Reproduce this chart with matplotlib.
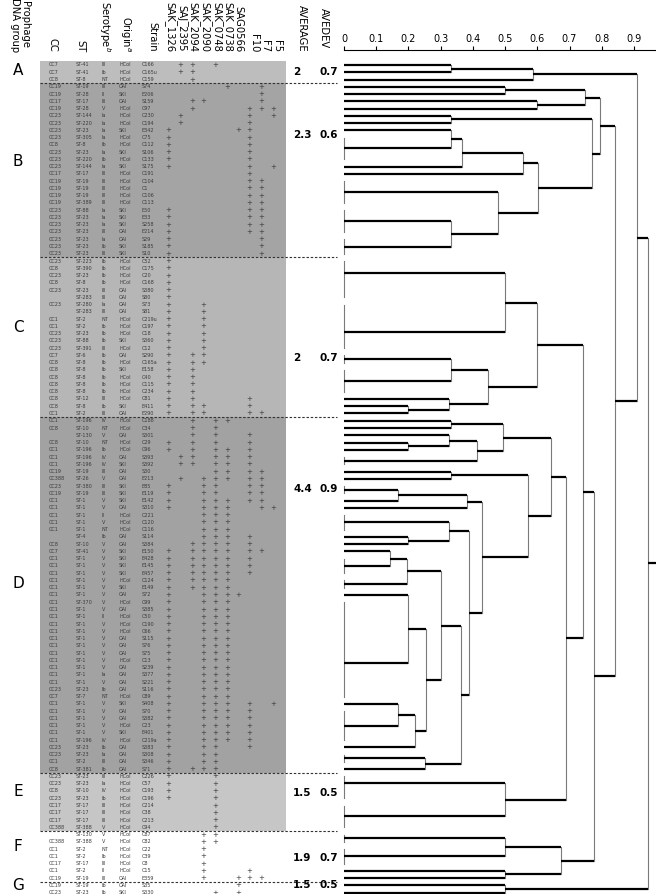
import matplotlib
matplotlib.use('Agg')
import matplotlib.pyplot as plt
import numpy as np
from matplotlib.patches import Rectangle

plt.rcParams['font.family'] = ['DejaVu Sans']

# ---------------- data ----------------
markers = ['SAK_1326', 'SAJ_2395', 'SAK_2094', 'SAK_2090', 'SAK_0748',
           'SAK_0738', 'SAG0566', 'F10', 'F7', 'F5']

cc = ['CC7', 'CC7', 'CC8',
      'CC19', 'CC19', 'CC17', 'CC19', 'CC23', 'CC23', 'CC23', 'CC23', 'CC8', 'CC23', 'CC23', 'CC23',
      'CC17', 'CC19', 'CC19', 'CC19', 'CC19', 'CC23', 'CC23', 'CC23', 'CC23', 'CC23', 'CC23', 'CC23',
      'CC23', 'CC8', 'CC23', 'CC8', 'CC23', '', 'CC23', '', 'CC1', 'CC1', 'CC23', 'CC23', 'CC23',
      'CC7', 'CC8', 'CC8', 'CC8', 'CC8', 'CC8', 'CC8', 'CC8', 'CC1',
      'CC1', 'CC8', '', 'CC8', 'CC1', 'CC1', 'CC1', 'CC19', 'CC388', 'CC23', 'CC19', 'CC1', 'CC1',
      'CC1', 'CC1', 'CC1', '', 'CC8', 'CC7', 'CC1', 'CC1', 'CC1', 'CC1', 'CC1', 'CC1', 'CC1', 'CC1',
      'CC1', 'CC1', 'CC1', 'CC1', 'CC1', 'CC1', 'CC1', 'CC1', 'CC1', 'CC1', 'CC23', 'CC7', 'CC1',
      'CC1', 'CC1', 'CC1', 'CC1', 'CC1', 'CC23', 'CC23', 'CC1', 'CC8',
      'CC23', 'CC23', 'CC8', 'CC23', 'CC17', 'CC17', 'CC17', 'CC388',
      '', 'CC388', 'CC1', 'CC1', 'CC17', 'CC1', 'CC19',
      'CC19', 'CC23']

st = ['ST-41', 'ST-41', 'ST-8',
      'ST-19', 'ST-28', 'ST-17', 'ST-28', 'ST-144', 'ST-220', 'ST-23', 'ST-305', 'ST-8', 'ST-23',
      'ST-220', 'ST-144', 'ST-17', 'ST-19', 'ST-19', 'ST-19', 'ST-389', 'ST-88', 'ST-23', 'ST-23',
      'ST-23', 'ST-23', 'ST-23', 'ST-23',
      'ST-223', 'ST-390', 'ST-23', 'ST-8', 'ST-23', 'ST-283', 'ST-280', 'ST-283', 'ST-2', 'ST-2',
      'ST-23', 'ST-88', 'ST-391', 'ST-6', 'ST-8', 'ST-8', 'ST-8', 'ST-8', 'ST-8', 'ST-12', 'ST-8',
      'ST-2',
      'ST-196', 'ST-10', 'ST-130', 'ST-10', 'ST-196', 'ST-196', 'ST-196', 'ST-19', 'ST-26', 'ST-380',
      'ST-19', 'ST-1', 'ST-1', 'ST-1', 'ST-1', 'ST-1', 'ST-4', 'ST-10', 'ST-41', 'ST-1', 'ST-1',
      'ST-1', 'ST-1', 'ST-1', 'ST-1', 'ST-370', 'ST-1', 'ST-1', 'ST-1', 'ST-1', 'ST-1', 'ST-1',
      'ST-1', 'ST-1', 'ST-1', 'ST-1', 'ST-1', 'ST-23', 'ST-7', 'ST-1', 'ST-1', 'ST-1', 'ST-1',
      'ST-1', 'ST-196', 'ST-23', 'ST-23', 'ST-2', 'ST-381',
      'ST-23', 'ST-23', 'ST-10', 'ST-23', 'ST-17', 'ST-17', 'ST-17', 'ST-388',
      'ST-130', 'ST-388', 'ST-2', 'ST-2', 'ST-17', 'ST-2', 'ST-19',
      'ST-19', 'ST-23']

serotype = ['III', 'Ib', 'NT',
            'III', 'II', 'III', 'V', 'Ia', 'Ia', 'Ia', 'Ia', 'Ib', 'Ia', 'Ib', 'Ia', 'III', 'III',
            'III', 'III', 'III', 'Ia', 'Ia', 'Ia', 'III', 'Ia', 'Ib', 'III',
            'Ib', 'Ib', 'Ib', 'Ib', 'III', 'III', 'Ia', 'III', 'NT', 'Ib', 'Ib', 'Ib', 'III', 'Ib',
            'Ib', 'Ib', 'Ib', 'Ib', 'Ib', 'III', 'Ib', 'III',
            'IV', 'NT', 'V', 'NT', 'Ib', 'IV', 'IV', 'III', 'V', 'III', 'III', 'V', 'V', 'II', 'V',
            'NT', 'Ib', 'V', 'V', 'V', 'V', 'V', 'V', 'V', 'V', 'V', 'V', 'II', 'V', 'V', 'V', 'V',
            'V', 'V', 'V', 'Ia', 'V', 'Ib', 'NT', 'V', 'V', 'V', 'V', 'V', 'IV', 'Ib', 'Ia', 'III',
            'Ib',
            'III', 'Ia', 'IV', 'Ib', 'III', 'III', 'III', 'V',
            'V', 'V', 'NT', 'Ib', 'III', 'II', 'III',
            'Ib', 'Ib']

origin = ['HCol', 'HCol', 'HCol',
          'OAI', 'SKI', 'OAI', 'HCol', 'HCol', 'HCol', 'SKI', 'HCol', 'HCol', 'SKI', 'HCol', 'SKI',
          'HCol', 'HCol', 'HCol', 'HCol', 'HCol', 'SKI', 'SKI', 'SKI', 'OAI', 'OAI', 'SKI', 'SKI',
          'HCol', 'HCol', 'HCol', 'HCol', 'OAI', 'OAI', 'OAI', 'OAI', 'HCol', 'HCol', 'HCol', 'SKI',
          'HCol', 'OAI', 'HCol', 'SKI', 'HCol', 'HCol', 'HCol', 'HCol', 'SKI', 'OAI',
          'HCol', 'HCol', 'OAI', 'HCol', 'HCol', 'OAI', 'SKI', 'OAI', 'OAI', 'SKI', 'SKI', 'SKI',
          'OAI', 'HCol', 'HCol', 'HCol', 'OAI', 'OAI', 'SKI', 'SKI', 'SKI', 'SKI', 'HCol', 'SKI',
          'OAI', 'HCol', 'OAI', 'HCol', 'HCol', 'HCol', 'OAI', 'OAI', 'OAI', 'HCol', 'OAI', 'OAI',
          'OAI', 'OAI', 'HCol', 'SKI', 'OAI', 'OAI', 'HCol', 'SKI', 'HCol', 'OAI', 'OAI', 'OAI',
          'OAI',
          'HCol', 'HCol', 'HCol', 'HCol', 'HCol', 'HCol', 'HCol', 'HCol',
          'HCol', 'HCol', 'HCol', 'HCol', 'HCol', 'HCol', 'OAI',
          'OAI', 'SKI']

strain = ['C166', 'C165u', 'C159',
          'S74', 'E206', 'S159', 'C97', 'C230', 'C194', 'E342', 'C75', 'C112', 'S106', 'C133',
          'S175', 'C191', 'C104', 'C1', 'C106', 'C113', 'E50', 'E33', 'S258', 'E214', 'S29',
          'S185', 'S10',
          'C52', 'C175', 'C20', 'C168', 'S380', 'S80', 'S73', 'S81', 'C219u', 'C197', 'C18',
          'S360', 'C12', 'S290', 'C165a', 'E158', 'C40', 'C115', 'C234', 'C81', 'E411', 'E290',
          'C188', 'C34', 'S301', 'C29', 'C96', 'S393', 'S392', 'S30', 'E213', 'E85', 'E119',
          'E142', 'S310', 'C221', 'C120', 'C116', 'S114', 'S384', 'E150', 'E428', 'E145', 'E457',
          'C124', 'E149', 'S72', 'C99', 'S385', 'C50', 'C190', 'C66', 'S115', 'S76', 'S75', 'C13',
          'S239', 'S377', 'S221', 'S116', 'C89', 'S408', 'S70', 'S382', 'C23', 'E401', 'C219a',
          'S383', 'S308', 'S346', 'S71',
          'C226', 'C57', 'C193', 'C196', 'C214', 'C38', 'C213', 'C94',
          'C87', 'C82', 'C22', 'C39', 'C8', 'C15', 'E359',
          'S35', 'S330']

# indices of the marker columns carrying a "+" in each row
profile = ['124', '12', '2',
           '58', '8', '238', '2789', '179', '17', '067', '07', '07', '07', '07', '079', '7',
           '78', '78', '78', '78', '078', '078', '078', '078', '08', '08', '08',
           '0', '0', '0', '0', '0', '0', '03', '03', '03', '03', '03', '03', '03', '023', '023',
           '02', '02', '02', '02', '027', '0237', '02378',
           '245', '24', '247', '0247', '02457', '12457', '12457', '4578', '134578', '03478',
           '03478', '034578', '034589', '345', '345', '345', '3457', '23457', '0234578',
           '023457', '023457', '023457', '02345', '02345', '03456',
           '0345', '0345', '0345', '0345', '0345', '0345', '0345', '0345', '0345', '0345',
           '0345', '0345', '0345', '0345',
           '034579', '03457', '03457', '03457', '03457', '03457', '0347', '034', '034', '0234',
           '04', '04', '04', '04', '4', '4', '4', '4',
           '34', '34', '3', '3', '3', '37', '3678',
           '6', '46']

groups = ['A', 'B', 'C', 'D', 'E', 'F', 'G']
group_size = [3, 24, 22, 49, 8, 7, 2]
average = ['2', '2.3', '2', '4.4', '1.5', '1.9', '1.5']
avedev = ['0.7', '0.6', '0.7', '0.9', '0.5', '0.7', '0.5']

# dendrogram (leaves = runs of identical profiles, ids 0..54; merged nodes 55..)
merge_a = [0, 55, 3, 5, 57, 7, 9, 61, 62, 14, 13, 63, 60, 59,
           16, 18, 21, 20, 70, 69,
           23, 26, 25, 77, 75, 29, 31, 81, 35, 34, 37, 85, 40, 42, 88, 87, 86, 45, 91, 84, 82,
           80, 79, 47, 97, 74, 49, 51, 101, 100, 68, 56, 53, 106]
merge_b = [1, 2, 4, 6, 58, 8, 10, 11, 12, 15, 64, 65, 66, 67,
           17, 19, 22, 71, 72, 73,
           24, 27, 76, 28, 78, 30, 32, 33, 36, 83, 38, 39, 41, 43, 44, 89, 90, 46, 92, 93, 94,
           95, 96, 48, 98, 99, 50, 52, 102, 103, 104, 105, 54, 107]
merge_h = [0.333, 0.588, 0.5, 0.6, 0.748, 0.333, 0.333, 0.367, 0.557, 0.333, 0.479, 0.603,
           0.771, 0.793,
           0.5, 0.333, 0.2, 0.326, 0.448, 0.598,
           0.333, 0.2, 0.326, 0.412, 0.495, 0.333, 0.167, 0.383, 0.2, 0.326, 0.143, 0.195,
           0.2, 0.167, 0.22, 0.255, 0.301, 0.25, 0.362, 0.389, 0.428, 0.572, 0.642,
           0.5, 0.69, 0.743, 0.5, 0.5, 0.673, 0.777, 0.842, 0.909, 0.5, 0.942]

# row at which the branch of a multi-strain leaf leaves the zero line (read from the tree)
leaf_stem_row = {16: 28.7, 17: 36.8, 41: 82.4, 47: 98.9}

# ---------------- layout ----------------
W, H = 656, 894
ROW0, PITCH = 65.0, 7.26


def row_of(ypx):
    return (ypx - ROW0) / PITCH


fig = plt.figure(figsize=(W / 100, H / 100), dpi=100)
ax = fig.add_axes([0, 0, 344 / W, 1])
ax.set_xlim(0, 344)
ax.set_ylim(row_of(H), row_of(0))
ax.axis('off')

group_bg = ['#bdbdbd', '#a4a4a4', '#b6b6b6', '#a2a2a2', '#c6c6c6', None, None]
group_letter_row = [0.7, 13.3, 36.2, 71.4, 100.1, 107.7, 113.0]
group_value_row = [1.0, 9.6, 40.4, 58.4, 100.3, 109.2, 113.0]

n_rows = len(strain)
starts = np.concatenate([[0], np.cumsum(group_size)[:-1]])
for gi, (s, n) in enumerate(zip(starts, group_size)):
    if group_bg[gi]:
        ax.add_patch(Rectangle((40, s - 0.5), 246, n, facecolor=group_bg[gi],
                               edgecolor='none', zorder=0))
    if gi > 0:
        ax.plot([40, 337], [s - 0.5, s - 0.5], color='#333333', lw=0.8,
                ls=(0, (2.2, 1.6)), zorder=3, clip_on=False)
    ax.text(18, group_letter_row[gi], groups[gi], fontsize=11, ha='center', va='center')
    ax.text(293, group_value_row[gi], average[gi], fontsize=7.5, fontweight='bold',
            ha='left', va='center')
    ax.text(338, group_value_row[gi], avedev[gi], fontsize=7.5, fontweight='bold',
            ha='right', va='center')

col_x = [49, 76, 102, 119, 142]
mark_x = [168, 180, 192, 203, 215, 227, 238, 249, 261, 273]
tcol = '#3c3c3c'
for i in range(n_rows):
    for x, val in zip(col_x, [cc[i], st[i], serotype[i], origin[i], strain[i]]):
        ax.text(x, i, val, fontsize=3.5, ha='left', va='center', color=tcol)
    for ch in profile[i]:
        ax.text(mark_x[int(ch)], i, '+', fontsize=5, ha='center', va='center', color=tcol)

# headers
hdr_y = row_of(52)
ax.text(20, hdr_y, 'Prophage\nDNA group', rotation=270, ha='center', va='bottom',
        fontsize=7.2, linespacing=1.0)
hdr = [('CC', 52), ('ST', 80), ('Serotype$^{b}$', 105), ('Origin$^{a}$', 125),
       ('Strain', 152)]
for lab, x in hdr:
    ax.text(x, hdr_y, lab, rotation=270, ha='center', va='bottom', fontsize=7.2)
mk_hx = [170, 182, 193, 205, 217, 228, 238, 254, 265, 277]
for lab, x in zip(markers, mk_hx):
    ax.text(x, hdr_y, lab, rotation=270, ha='center', va='bottom', fontsize=7.2)
ax.text(302, hdr_y, 'AVERAGE', rotation=270, ha='center', va='bottom', fontsize=7.2)
ax.text(324, row_of(48), 'AVEDEV', rotation=270, ha='center', va='bottom', fontsize=7.2)

# ---------------- dendrogram ----------------
dax = fig.add_axes([344 / W, 0, (W - 344) / W, (H - 50) / H])
dax.set_xlim(0, (W - 344) / 322.2)
dax.set_ylim(row_of(H), row_of(50))
for s in ['left', 'right', 'bottom']:
    dax.spines[s].set_visible(False)
dax.spines['top'].set_linewidth(0.8)
dax.xaxis.tick_top()
ticks = np.round(np.arange(0, 0.95, 0.1), 1)
dax.set_xticks(ticks)
dax.set_xticklabels(['0'] + [f'{t:.1f}' for t in ticks[1:]])
dax.tick_params(axis='x', direction='out', length=3, width=0.8, labelsize=7, pad=1)
dax.set_yticks([])
dax.patch.set_alpha(0)

# leaves: runs of identical consecutive profiles
leaf_first, leaf_last = [0], []
for i in range(1, n_rows):
    if profile[i] != profile[i - 1]:
        leaf_last.append(i - 1)
        leaf_first.append(i)
leaf_last.append(n_rows - 1)
node_y = [leaf_stem_row.get(k, (a + b) / 2)
          for k, (a, b) in enumerate(zip(leaf_first, leaf_last))]
node_h = [0.0] * len(node_y)

hcol, vcol = '#000000', '#7a7a7a'
for a, b in zip(leaf_first, leaf_last):
    if b > a:
        dax.plot([0, 0], [a, b], color=vcol, lw=0.8, clip_on=False, zorder=2)

for a, b, h in zip(merge_a, merge_b, merge_h):
    ya, yb = node_y[a], node_y[b]
    dax.plot([h, h], [ya, yb], color=vcol, lw=0.8, clip_on=False, zorder=2)
    for c in (a, b):
        dax.plot([node_h[c], h], [node_y[c], node_y[c]], color=hcol, lw=1.6,
                 solid_capstyle='butt', clip_on=False, zorder=3)
    node_y.append((ya + yb) / 2)
    node_h.append(h)

dax.plot([node_h[-1], dax.get_xlim()[1]], [node_y[-1], node_y[-1]], color=hcol, lw=1.6,
         solid_capstyle='butt', clip_on=False, zorder=3)

fig.savefig('out.png', dpi=100)
